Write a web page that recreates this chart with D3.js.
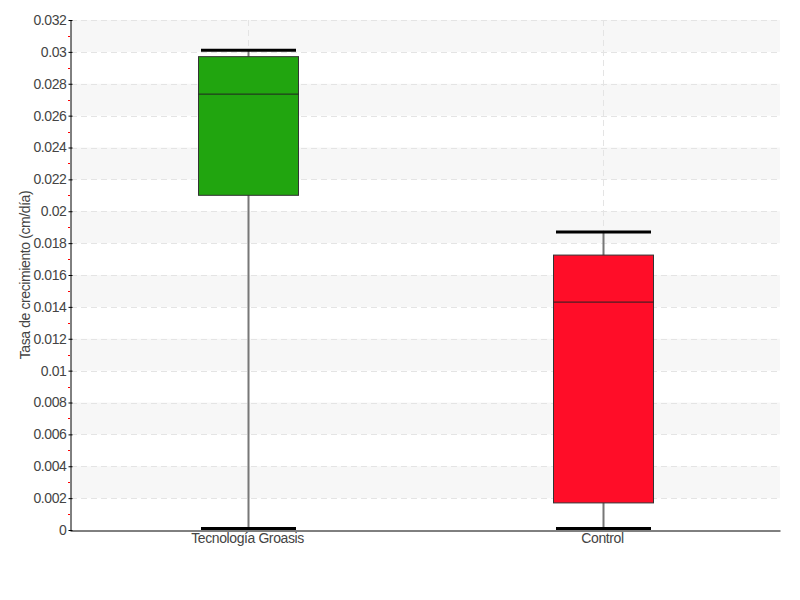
<!DOCTYPE html>
<html><head><meta charset="utf-8">
<script src="https://cdn.jsdelivr.net/npm/d3@7/dist/d3.min.js"></script>
<style>body{margin:0;background:#fff}svg{display:block}text{font-family:"Liberation Sans",Arial,sans-serif;fill:#444;letter-spacing:-0.4px}</style>
</head><body><svg id="c" width="800" height="600"></svg>
<script>
const categories = ["Tecnología Groasis", "Control"];
const mins = [0.0001, 0.0001];
const q1s = [0.0210, 0.0017];
const medians = [0.02735, 0.0143];
const q3s = [0.0297, 0.01725];
const maxs = [0.0301, 0.0187];
const colors = ["#21a50f", "#ff0d28"];
const yTicks = [0,0.002,0.004,0.006,0.008,0.01,0.012,0.014,0.016,0.018,0.02,0.022,0.024,0.026,0.028,0.03,0.032];
const yTitle = "Tasa de crecimiento (cm/día)";

const svg = d3.select("#c");
const L = 70, R = 780, T = 20, B = 530;
const y = d3.scaleLinear().domain([0, 0.032]).range([B, T]);
const x = d3.scaleBand().domain(categories).range([L, R]).padding(0);

// bands
const g = svg.append("g");
for (let i = 0; i < yTicks.length - 1; i++) {
  if (i % 2 === 1) {
    g.append("rect").attr("x", L + 1).attr("width", R - L - 1)
      .attr("y", y(yTicks[i + 1])).attr("height", y(yTicks[i]) - y(yTicks[i + 1]))
      .attr("fill", "#f7f7f7");
  }
}
// horizontal grid
g.selectAll(".hg").data(yTicks.slice(1)).enter().append("line")
  .attr("x1", L + 1).attr("x2", R).attr("y1", d => Math.round(y(d)) + 0.5).attr("y2", d => Math.round(y(d)) + 0.5)
  .attr("stroke", "#e4e4e4").attr("stroke-dasharray", "6,4");
// vertical grid
g.selectAll(".vg").data(categories).enter().append("line")
  .attr("x1", d => Math.round(x(d) + x.bandwidth() / 2) + 0.5).attr("x2", d => Math.round(x(d) + x.bandwidth() / 2) + 0.5)
  .attr("y1", T).attr("y2", B).attr("stroke", "#e4e4e4").attr("stroke-dasharray", "6,4");

// y axis
const ya = svg.append("g").attr("transform", `translate(${L + 0.5},0)`)
  .call(d3.axisLeft(y).tickValues(yTicks).tickFormat(d => d3.format("")(+d.toFixed(3))).tickSize(2).tickSizeOuter(0));
ya.select(".domain").attr("stroke", "#000");
ya.selectAll(".tick line").attr("stroke", "#000").attr("x2", 2).attr("x1", -2);
ya.selectAll(".tick text").attr("x", -4).style("font-size", "14px").style("font-family", null).attr("fill", "#444");
// minor red ticks
const minor = d3.range(1, 32, 2).map(v => v / 1000);
svg.selectAll(".mt").data(minor).enter().append("line")
  .attr("x1", L - 2).attr("x2", L).attr("y1", d => Math.round(y(d)) + 0.5).attr("y2", d => Math.round(y(d)) + 0.5)
  .attr("stroke", "#ff0000");

// x axis
const xa = svg.append("g").attr("transform", `translate(0,${B + 0.5})`)
  .call(d3.axisBottom(x).tickSize(0).tickSizeOuter(0));
xa.select(".domain").attr("stroke", "#000");
xa.selectAll(".tick text").attr("y", 3).style("font-size", "14px").attr("fill", "#444");
svg.selectAll(".tick text").attr("font-family", null);

// y title
svg.append("text").attr("transform", `translate(30,${(T + B) / 2}) rotate(-90)`)
  .attr("text-anchor", "middle").style("font-size", "14px").text(yTitle);

// boxes
const bw = 100, cw = 95;
categories.forEach((c, i) => {
  const cx = Math.round(x(c) + x.bandwidth() / 2) + 0.5;
  svg.append("line").attr("x1", cx).attr("x2", cx).attr("y1", y(maxs[i])).attr("y2", y(mins[i]))
    .attr("stroke", "#777").attr("stroke-width", 2);
  svg.append("rect").attr("x", cx - bw / 2).attr("width", bw)
    .attr("y", y(q3s[i])).attr("height", y(q1s[i]) - y(q3s[i]))
    .attr("fill", colors[i]).attr("stroke", "#333").attr("stroke-width", 1);
  svg.append("line").attr("x1", cx - bw / 2).attr("x2", cx + bw / 2).attr("y1", y(medians[i])).attr("y2", y(medians[i]))
    .attr("stroke", "#222").attr("stroke-width", 1);
  [maxs[i], mins[i]].forEach(v => {
    svg.append("line").attr("x1", cx - cw / 2).attr("x2", cx + cw / 2).attr("y1", y(v)).attr("y2", y(v))
      .attr("stroke", "#000").attr("stroke-width", 3);
  });
});
</script></body></html>
